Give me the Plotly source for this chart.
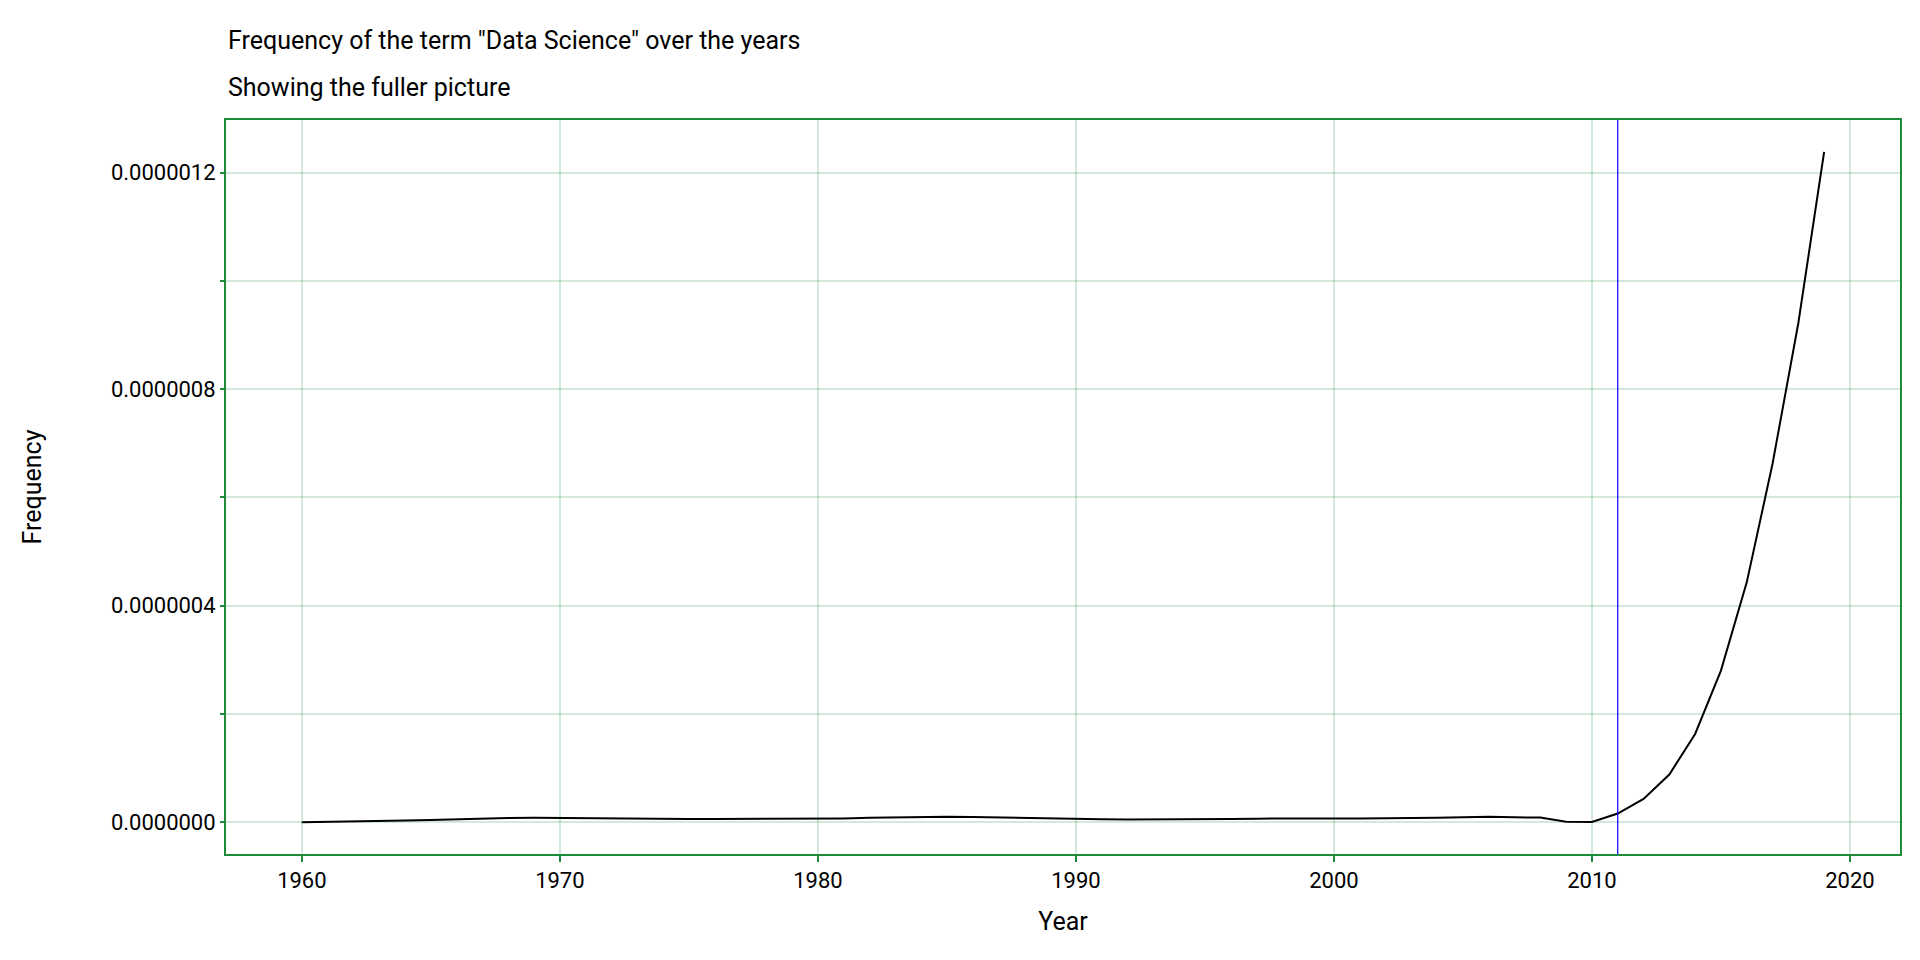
import plotly.graph_objects as go

years = list(range(1960, 2020))
freq_e7 = [0.00, 0.005, 0.01, 0.02, 0.03, 0.04, 0.055, 0.07, 0.075, 0.08,
           0.075, 0.07, 0.07, 0.07, 0.065, 0.06, 0.06, 0.06, 0.06, 0.06,
           0.06, 0.07, 0.08, 0.09, 0.10, 0.10, 0.095, 0.085, 0.075, 0.065,
           0.06, 0.055, 0.05, 0.05, 0.05, 0.055, 0.06, 0.065, 0.07, 0.07,
           0.07, 0.07, 0.07, 0.07, 0.08, 0.09, 0.10, 0.09, 0.085, 0.01,
           0.005, 0.16, 0.43, 0.88, 1.63, 2.80, 4.43, 6.62, 9.22, 12.38]
freq = [v * 1e-7 for v in freq_e7]

ytick_vals = [0, 2e-7, 4e-7, 6e-7, 8e-7, 1e-6, 1.2e-6]
ytick_text = ["0.0000000", "", "0.0000004", "", "0.0000008", "", "0.0000012"]

green = "#1f8a3a"
grid = "rgba(31,138,58,0.2)"

fig = go.Figure()
fig.add_trace(go.Scatter(x=years, y=freq, mode="lines",
                         line=dict(color="black", width=2), showlegend=False))
fig.add_vline(x=2011, line=dict(color="blue", width=1.2))

fig.update_layout(
    width=1920, height=960,
    paper_bgcolor="white", plot_bgcolor="white",
    font=dict(family="Roboto, sans-serif", size=22, color="black"),
    margin=dict(l=218, r=28, t=112, b=114),
    annotations=[
        dict(text='Frequency of the term "Data Science" over the years', xref="paper", yref="paper",
             x=0, y=1, yshift=80, xanchor="left", yanchor="middle", showarrow=False, font=dict(size=25)),
        dict(text="Showing the fuller picture", xref="paper", yref="paper",
             x=0, y=1, yshift=33, xanchor="left", yanchor="middle", showarrow=False, font=dict(size=25)),
    ],
)
fig.update_xaxes(range=[1957.06, 2021.94], tickvals=[1960, 1970, 1980, 1990, 2000, 2010, 2020],
                 showgrid=True, gridcolor=grid, gridwidth=2, zeroline=False,
                 showline=True, linecolor=green, linewidth=2, mirror=True,
                 ticks="outside", tickcolor=green, ticklen=6, tickwidth=2,
                 title=dict(text="Year", font=dict(size=25), standoff=20))
fig.update_yaxes(range=[-0.0588e-6, 1.297e-6], tickvals=ytick_vals, ticktext=ytick_text,
                 showgrid=True, gridcolor=grid, gridwidth=2, zeroline=False,
                 showline=True, linecolor=green, linewidth=2, mirror=True,
                 ticks="outside", tickcolor=green, ticklen=4, tickwidth=2,
                 title=dict(text="Frequency", font=dict(size=25), standoff=62))

fig.write_html("out.html")
